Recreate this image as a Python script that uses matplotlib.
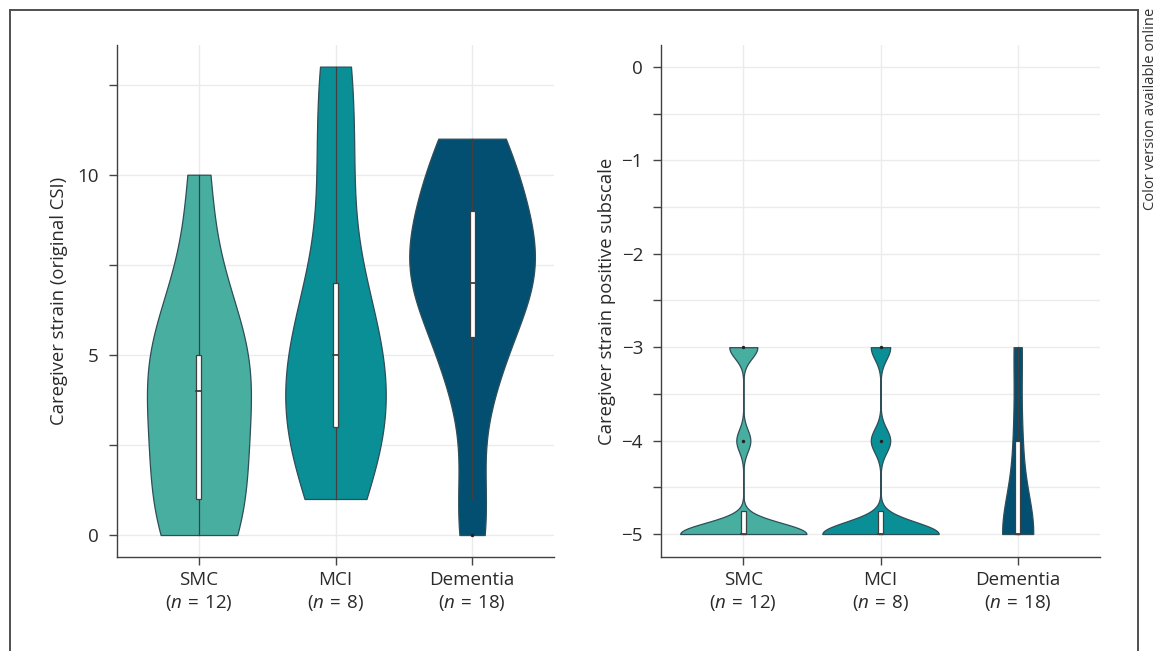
import numpy as np
import matplotlib
matplotlib.use("Agg")
import matplotlib.pyplot as plt
from matplotlib.patches import Rectangle
from matplotlib.lines import Line2D
from matplotlib.ticker import MultipleLocator

plt.rcParams.update({
    "font.family":      ["Open Sans", "DejaVu Sans"],
    "font.size":        13.3,
    "mathtext.fontset": "custom",
    "mathtext.rm":      "Open Sans",
    "mathtext.it":      "Open Sans:italic",
    "text.color":       "#2a2a2a",
    "axes.labelcolor":  "#2a2a2a",
    "xtick.color":      "#444444",
    "ytick.color":      "#444444",
    "xtick.labelcolor": "#2a2a2a",
    "ytick.labelcolor": "#2a2a2a",
    "xtick.labelsize":  13.5,
    "ytick.labelsize":  13.5,
})

GROUPS   = ["SMC", "MCI", "Dementia"]
N_GROUP  = [12, 8, 18]
COLORS   = ["#48ae9f", "#0a8f96", "#034f72"]

# scores read back from the violins, boxes and outlier dots
csi_smc = [0, 0, 1, 1, 2, 4, 4, 5, 5, 5, 7, 10]
csi_mci = [1, 3, 3, 4, 6, 6, 10, 13]
csi_dem = [0, 1, 4, 5, 5, 7, 7, 7, 7, 7, 8, 8, 9, 9, 10, 10, 11, 11]

pos_smc = [-5, -5, -5, -5, -5, -5, -5, -5, -5, -4, -3, -3]
pos_mci = [-5, -5, -5, -5, -5, -5, -4, -3]
pos_dem = [-5, -5, -5, -5, -5, -5, -5, -5, -5, -5, -5, -5,
           -4, -4, -4, -3, -3, -3]

EDGE   = "#2e4e58"
DARK   = "#404040"
GRID   = "#ebebeb"
HALF_W = 0.46
BOX_W  = 0.036


def kde(vals):
    v = np.sort(np.asarray(vals, float))
    n = len(v)
    q1, q3 = np.percentile(v, [25, 75])
    bw = 1.059 * min(v.std(ddof=1), (q3 - q1) / 1.349) * n ** -0.2
    y = np.linspace(v.min(), v.max(), 400)
    d = np.exp(-0.5 * ((y[:, None] - v[None, :]) / bw) ** 2).sum(1)
    return y, d / (n * bw * np.sqrt(2 * np.pi))


def draw_panel(ax, datasets, ylabel, label_x):
    curves = [kde(d) for d in datasets]
    dmax = max(c[1].max() for c in curves)   # shared scale group
    for i, (vals, (y, d), col) in enumerate(zip(datasets, curves, COLORS)):
        w = d / dmax * HALF_W
        ax.fill_betweenx(y, i - w, i + w, facecolor=col, edgecolor=EDGE,
                         linewidth=0.9, zorder=2)
        v = np.asarray(vals, float)
        q1, med, q3 = np.percentile(v, [25, 50, 75])
        iqr = q3 - q1
        lo_f, hi_f = q1 - 1.5 * iqr, q3 + 1.5 * iqr
        inside = v[(v >= lo_f) & (v <= hi_f)]
        ax.plot([i, i], [inside.min(), inside.max()], color=DARK,
                linewidth=0.9, zorder=3)
        ax.add_patch(Rectangle((i - BOX_W / 2, q1), BOX_W, q3 - q1,
                               facecolor="white", edgecolor=DARK,
                               linewidth=0.9, zorder=4))
        ax.plot([i - BOX_W / 2, i + BOX_W / 2], [med, med], color=DARK,
                linewidth=1.3, zorder=5)
        out = np.unique(v[(v < lo_f) | (v > hi_f)])
        ax.scatter(np.full(len(out), i), out, s=6, color="#222222",
                   linewidths=0, zorder=6)

    ax.set_xticks(range(len(GROUPS)))
    ax.set_xticklabels([f"{g}\n($\\mathit{{n}}$\u2004=\u2004{n})"
                        for g, n in zip(GROUPS, N_GROUP)], linespacing=1.3)
    ax.set_xlim(-0.6, 2.6)
    ax.set_ylabel(ylabel)
    ax.yaxis.set_label_coords(label_x, 0.5)
    ax.grid(True, which="both", axis="y", color=GRID, linewidth=1, zorder=0)
    ax.grid(True, which="major", axis="x", color=GRID, linewidth=1, zorder=0)
    ax.set_axisbelow(True)
    for s in ("top", "right"):
        ax.spines[s].set_visible(False)
    for s in ("left", "bottom"):
        ax.spines[s].set_color(DARK)
        ax.spines[s].set_linewidth(1)
    ax.tick_params(which="both", direction="out", length=6, width=1)
    ax.tick_params(axis="x", pad=4)
    ax.tick_params(axis="y", pad=7)


fig = plt.figure(figsize=(11.6, 6.51), dpi=100)
ax1 = fig.add_axes([117 / 1160, 94 / 651, 437 / 1160, 512 / 651])
ax2 = fig.add_axes([661 / 1160, 94 / 651, 439 / 1160, 512 / 651])

draw_panel(ax1, [csi_smc, csi_mci, csi_dem],
           "Caregiver strain (original CSI)", -0.112)
ax1.set_ylim(-0.61, 13.6)
ax1.yaxis.set_major_locator(MultipleLocator(5))
ax1.yaxis.set_minor_locator(MultipleLocator(2.5))

draw_panel(ax2, [pos_smc, pos_mci, pos_dem],
           "Caregiver strain positive subscale", -0.1025)
ax2.set_ylim(-5.246, 0.235)
ax2.yaxis.set_major_locator(MultipleLocator(1))
ax2.yaxis.set_minor_locator(MultipleLocator(0.5))

# journal frame and side note
fx = lambda px: px / 1160
fy = lambda px: 1 - px / 651
for xs, ys in [([fx(10), fx(10)], [0, fy(10)]),
               ([fx(10), fx(1138)], [fy(10), fy(10)]),
               ([fx(1138), fx(1138)], [fy(10), 0])]:
    fig.add_artist(Line2D(xs, ys, color="#505050", linewidth=1.4))
fig.text(fx(1151), fy(8), "Color version available online", rotation=90,
         ha="center", va="top", fontsize=10.6, color="#333333")

fig.savefig("out.png", dpi=100, facecolor="white")
